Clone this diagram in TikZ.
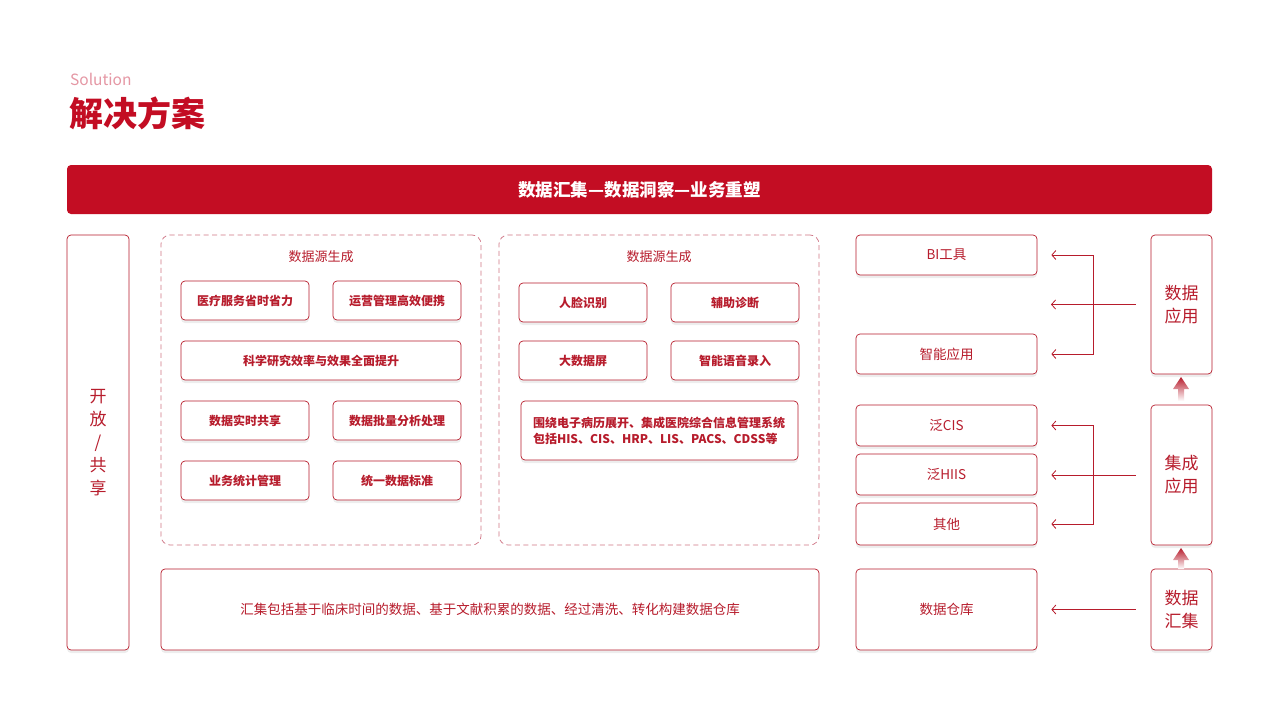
\documentclass[tikz,border=0pt]{standalone}
\usepackage{fontspec}
\setmainfont{Noto Sans CJK SC}
\usetikzlibrary{arrows.meta,shadows}
\definecolor{mainred}{HTML}{C30D23}
\definecolor{boxred}{HTML}{B71C2C}
\definecolor{softred}{HTML}{E597A4}
\definecolor{dashred}{HTML}{CF7585}

\begin{document}
\begin{tikzpicture}[x=1pt,y=-1pt,>={Straight Barb[length=4pt,width=9pt]}]
  \tikzstyle{soft}=[drop shadow={shadow xshift=0pt,shadow yshift=-3pt,opacity=0.07,fill=black}]
  \tikzstyle{module}=[rectangle,draw=boxred,line width=0.7pt,rounded corners=4pt,fill=white,text=boxred,inner sep=0pt,font=\bfseries\fontsize{12}{16}\selectfont,soft]
  \tikzstyle{sidebox}=[module,font=\fontsize{13.5}{16}\selectfont]
  \tikzstyle{tallbox}=[module,align=center,font=\fontsize{17}{23}\selectfont]
  \tikzstyle{group}=[rectangle,draw=dashred,line width=0.75pt,dash pattern=on 5pt off 3.5pt,rounded corners=9pt,fill=white]
  \tikzstyle{link}=[draw=boxred,line width=0.8pt]

  \useasboundingbox[fill=white] (0,0) rectangle (1280,720);

  % heading
  \node[anchor=west,text=softred,font=\fontsize{15.5}{18}\selectfont,inner sep=0pt] (sol) at (70,79) {Solution};
  \node[anchor=west,text=mainred,font=\bfseries\fontsize{34}{38}\selectfont,inner sep=0pt] (head) at (69,113) {解决方案};
  \node[rectangle,fill=mainred,rounded corners=4pt,minimum width=1145pt,minimum height=49pt,text=white,font=\bfseries\fontsize{17.5}{20}\selectfont] (banner) at (639.5,189.5) {数据汇集—数据洞察—业务重塑};

  % left column
  \node[tallbox,minimum width=62pt,minimum height=415pt] (share) at (98,442.5) {开\\放\\/\\共\\享};

  % data source groups
  \node[group,minimum width=320pt,minimum height=310pt] (src1) at (321,390) {};
  \node[group,minimum width=320pt,minimum height=310pt] (src2) at (659,390) {};
  \node[text=boxred,font=\fontsize{13}{16}\selectfont] (src1title) at (321,257) {数据源生成};
  \node[text=boxred,font=\fontsize{13}{16}\selectfont] (src2title) at (659,257) {数据源生成};

  \node[module,minimum width=128pt,minimum height=39pt] (care) at (245,300.5) {医疗服务省时省力};
  \node[module,minimum width=128pt,minimum height=39pt] (ops) at (397,300.5) {运营管理高效便携};
  \node[module,minimum width=280pt,minimum height=39pt] (research) at (321,360.5) {科学研究效率与效果全面提升};
  \node[module,minimum width=128pt,minimum height=39pt] (sharing) at (245,420.5) {数据实时共享};
  \node[module,minimum width=128pt,minimum height=39pt] (batch) at (397,420.5) {数据批量分析处理};
  \node[module,minimum width=128pt,minimum height=39pt] (stats) at (245,480.5) {业务统计管理};
  \node[module,minimum width=128pt,minimum height=39pt] (standard) at (397,480.5) {统一数据标准};

  \node[module,minimum width=128pt,minimum height=39pt] (face) at (583,302.5) {人脸识别};
  \node[module,minimum width=128pt,minimum height=39pt] (diag) at (735,302.5) {辅助诊断};
  \node[module,minimum width=128pt,minimum height=39pt] (screen) at (583,360.5) {大数据屏};
  \node[module,minimum width=128pt,minimum height=39pt] (voice) at (735,360.5) {智能语音录入};
  \node[module,minimum width=277pt,minimum height=59pt,text width=253pt,align=left] (emr) at (659.5,430.5) {围绕电子病历展开、集成医院综合信息管理系统\\包括HIS、CIS、HRP、LIS、PACS、CDSS等};

  \node[module,minimum width=658pt,minimum height=81pt,font=\fontsize{13.5}{16}\selectfont] (pool) at (490,609.5) {汇集包括基于临床时间的数据、基于文献积累的数据、经过清洗、转化构建数据仓库};

  % application column
  \node[sidebox,minimum width=181pt,minimum height=40pt] (bi) at (946.5,255) {BI工具};
  \node[sidebox,minimum width=181pt,minimum height=40pt] (smart) at (946.5,354) {智能应用};
  \node[sidebox,minimum width=181pt,minimum height=41pt] (cis) at (946.5,425.5) {泛CIS};
  \node[sidebox,minimum width=181pt,minimum height=41pt] (hiis) at (946.5,474.5) {泛HIIS};
  \node[sidebox,minimum width=181pt,minimum height=42pt] (other) at (946.5,524) {其他};
  \node[sidebox,minimum width=181pt,minimum height=81pt] (warehouse) at (946.5,609.5) {数据仓库};

  \node[tallbox,minimum width=61pt,minimum height=139pt] (dataapp) at (1181.5,304.5) {数据\\应用};
  \node[tallbox,minimum width=61pt,minimum height=140pt] (integ) at (1181.5,475) {集成\\应用};
  \node[tallbox,minimum width=61pt,minimum height=81pt] (collect) at (1181.5,609.5) {数据\\汇集};

  % connectors
  \coordinate (j1) at (1093,304.5);
  \coordinate (free) at (1051,304.5);
  \coordinate (j2) at (1093,475);
  \draw[link,->,shorten <=15pt] (dataapp) -- (free);
  \draw[link,->,shorten >=14pt] (j1) |- (bi);
  \draw[link,->,shorten >=14pt] (j1) |- (smart);
  \draw[link,->,shorten <=15pt,shorten >=14pt] (integ) -- (j2 -| hiis.east);
  \draw[link,->,shorten >=14pt] (j2) |- (cis);
  \draw[link,->,shorten >=14pt] (j2) |- (other);
  \path[link,->] (collect) edge[shorten <=15pt,shorten >=14pt] (warehouse);

  % up arrows
  \shade[top color=boxred,bottom color=white] (1181,377) -- (1189,389) -- (1184,389) -- (1184,401) -- (1178,401) -- (1178,389) -- (1173,389) -- cycle;
  \shade[top color=boxred,bottom color=white] (1181,548) -- (1189,560) -- (1184,560) -- (1184,569) -- (1178,569) -- (1178,560) -- (1173,560) -- cycle;
\end{tikzpicture}
\end{document}
